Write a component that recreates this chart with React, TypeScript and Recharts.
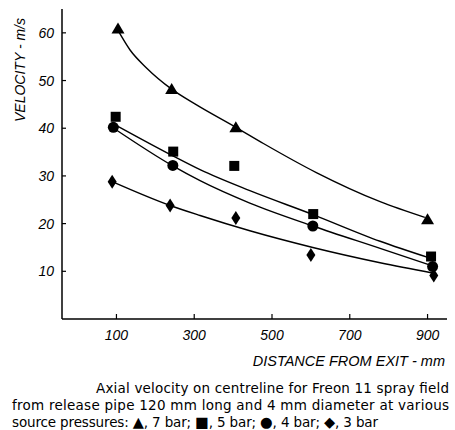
import React from 'react';
import { ComposedChart, Line, Scatter, XAxis, YAxis } from 'recharts';

const xTicks = [100, 300, 500, 700, 900];
const yTicks = [10, 20, 30, 40, 50, 60];

// measured points (distance mm, velocity m/s)
const dist7 = [104, 242, 407, 900];
const vel7 = [60.9, 48.2, 40.2, 20.9];
const dist5 = [98, 246, 403, 606, 909];
const vel5 = [42.4, 35.1, 32.1, 22.0, 13.1];
const dist4 = [92, 245, 605, 913];
const vel4 = [40.2, 32.2, 19.5, 11.0];
const dist3 = [89, 238, 407, 600, 916];
const vel3 = [28.8, 23.8, 21.2, 13.4, 9.1];

// fitted curves
const fitDist7 = [104, 135, 178, 242, 306, 407, 478, 614, 778, 893];
const fitVel7 = [60.5, 56.4, 52.6, 48.2, 44.9, 40.2, 36.8, 30.7, 24.6, 21.3];
const fitDist5 = [99, 245, 315, 443, 605, 778, 905];
const fitVel5 = [40.6, 34.2, 31.3, 26.9, 21.9, 16.3, 12.8];
const fitDist4 = [93, 245, 315, 443, 605, 778, 910];
const fitVel4 = [40.0, 32.1, 29.0, 24.3, 19.5, 14.8, 11.2];
const fitDist3 = [89, 238, 315, 443, 605, 778, 916];
const fitVel3 = [28.8, 23.8, 21.7, 18.5, 15.0, 11.8, 9.6];

const zip = (xs: number[], ys: number[]) => xs.map((x, i) => ({ x, y: ys[i] }));

const pts7 = zip(dist7, vel7);
const pts5 = zip(dist5, vel5);
const pts4 = zip(dist4, vel4);
const pts3 = zip(dist3, vel3);
const fit7 = zip(fitDist7, fitVel7);
const fit5 = zip(fitDist5, fitVel5);
const fit4 = zip(fitDist4, fitVel4);
const fit3 = zip(fitDist3, fitVel3);

const Tri = (p: any) => (
  <path d={`M${p.cx},${p.cy - 6} L${p.cx + 6.5},${p.cy + 5} L${p.cx - 6.5},${p.cy + 5} Z`} fill="#000" />
);
const Sq = (p: any) => <rect x={p.cx - 5} y={p.cy - 5} width={10} height={10} fill="#000" />;
const Circ = (p: any) => <circle cx={p.cx} cy={p.cy} r={5.5} fill="#000" />;
const Dia = (p: any) => (
  <path d={`M${p.cx},${p.cy - 7} L${p.cx + 4.5},${p.cy} L${p.cx},${p.cy + 7} L${p.cx - 4.5},${p.cy} Z`} fill="#000" />
);

const tickStyle = {
  fill: '#000',
  fontSize: 14,
  fontStyle: 'italic',
  fontFamily: 'Liberation Sans, Arial, sans-serif',
};

const lineProps = {
  type: 'monotone' as const,
  dataKey: 'y',
  stroke: '#000',
  strokeWidth: 1.4,
  dot: false,
  activeDot: false,
  isAnimationActive: false,
};

const capFont = 'DejaVu Sans, Liberation Sans, sans-serif';
const symSize = 14.5;

export default function App() {
  return (
    <div style={{ position: 'absolute', left: 0, top: 0, width: 455, height: 430, background: '#fff' }}>
      <ComposedChart width={455} height={430} margin={{ top: 9, right: 8, bottom: 81, left: 2 }}>
        <XAxis
          type="number"
          dataKey="x"
          domain={[-40, 950]}
          ticks={xTicks}
          allowDataOverflow
          height={30}
          tickSize={-5}
          tickMargin={16}
          tick={tickStyle}
          axisLine={{ stroke: '#000', strokeWidth: 1.5 }}
          tickLine={{ stroke: '#000', strokeWidth: 1.2 }}
        />
        <YAxis
          type="number"
          dataKey="y"
          domain={[0, 65]}
          ticks={yTicks}
          allowDataOverflow
          width={60}
          tickSize={-4}
          tickMargin={12}
          tick={tickStyle}
          axisLine={{ stroke: '#000', strokeWidth: 1.5 }}
          tickLine={{ stroke: '#000', strokeWidth: 1.2 }}
        />
        <Line data={fit7} {...lineProps} />
        <Line data={fit5} {...lineProps} />
        <Line data={fit4} {...lineProps} />
        <Line data={fit3} {...lineProps} />
        <Scatter data={pts7} shape={Tri} isAnimationActive={false} />
        <Scatter data={pts5} shape={Sq} isAnimationActive={false} />
        <Scatter data={pts4} shape={Circ} isAnimationActive={false} />
        <Scatter data={pts3} shape={Dia} isAnimationActive={false} />
      </ComposedChart>
      <svg
        width={455}
        height={430}
        style={{ position: 'absolute', left: 0, top: 0, pointerEvents: 'none' }}
        fontFamily="Liberation Sans, Arial, sans-serif"
      >
        <text
          x={20}
          y={70}
          transform="rotate(-90, 20, 70)"
          textAnchor="middle"
          dominantBaseline="central"
          fontSize={14}
          fontStyle="italic"
          fill="#000"
        >
          VELOCITY - m/s
        </text>
        <text x={445} y={366} textAnchor="end" fontSize={14.5} fontStyle="italic" fill="#000">
          DISTANCE FROM EXIT - mm
        </text>
        <text x={96} y={393} fontSize={13.5} fontFamily={capFont} fill="#000" textLength={353} lengthAdjust="spacing">
          Axial velocity on centreline for Freon 11 spray field
        </text>
        <text x={12} y={409.5} fontSize={13.5} fontFamily={capFont} fill="#000" textLength={437} lengthAdjust="spacing">
          from release pipe 120 mm long and 4 mm diameter at various
        </text>
        <text x={12} y={426.5} fontSize={13.5} fontFamily={capFont} fill="#000" textLength={366} lengthAdjust="spacing">
          source pressures: <tspan fontSize={symSize}>▲</tspan>, 7 bar; <tspan fontSize={symSize}>■</tspan>, 5 bar;{' '}
          <tspan fontSize={symSize}>●</tspan>, 4 bar; <tspan fontSize={symSize}>◆</tspan>, 3 bar
        </text>
      </svg>
    </div>
  );
}
